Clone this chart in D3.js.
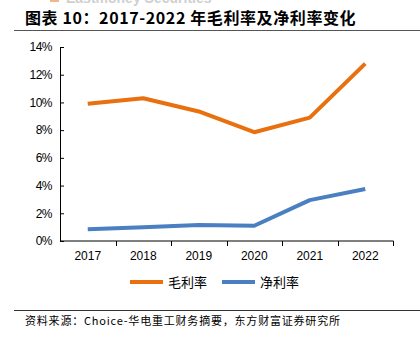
<!DOCTYPE html>
<html>
<head>
<meta charset="utf-8">
<script src="https://cdn.jsdelivr.net/npm/d3@7"></script>
<style>
  body { margin: 0; background: #fff; }
  svg { display: block; font-family: "Liberation Sans", Arial, sans-serif; }
  .axis path, .axis line { stroke: #000; }
  .axis text { fill: #000; font-size: 12px; }
</style>
</head>
<body>
<svg id="chart" width="420" height="343"></svg>
<script>
var years = ["2017", "2018", "2019", "2020", "2021", "2022"],
    grossMargin = [9.9, 10.3, 9.35, 7.85, 8.9, 12.8],
    netMargin = [0.85, 1.0, 1.15, 1.1, 2.95, 3.75],
    yTicks = [0, 2, 4, 6, 8, 10, 12, 14],
    seriesNames = ["毛利率", "净利率"],
    colors = ["#e8700f", "#4a7fc1"];

var svg = d3.select("#chart"),
    margin = {top: 47, right: 27, bottom: 102, left: 60},
    width = +svg.attr("width") - margin.left - margin.right,
    height = +svg.attr("height") - margin.top - margin.bottom,
    g = svg.append("g").attr("transform", "translate(" + margin.left + "," + margin.top + ")");

// watermark peeking at the top
svg.append("text")
    .attr("x", 66).attr("y", 3)
    .attr("font-size", 14).attr("font-weight", "bold")
    .attr("fill", "#cfcfcf")
    .text("Eastmoney Securities");
svg.append("rect").attr("x", 50).attr("y", -6).attr("width", 9).attr("height", 8).attr("fill", "#f3b58a");

// title
svg.append("text")
    .attr("x", 25).attr("y", 24)
    .attr("font-family", "'Noto Sans CJK SC', sans-serif")
    .attr("font-size", 16).attr("font-weight", "bold")
    .attr("letter-spacing", "0.6px")
    .attr("fill", "#000")
    .text("图表 10：2017-2022 年毛利率及净利率变化");

svg.append("line")
    .attr("x1", 14).attr("x2", 420).attr("y1", 30.5).attr("y2", 30.5)
    .attr("stroke", "#555").attr("stroke-width", 1);

var x = d3.scaleBand()
    .domain(years)
    .range([0, width]);

var y = d3.scaleLinear()
    .domain([0, 14])
    .range([height, 0]);

// x axis with ticks at category boundaries
var xAxis = g.append("g")
    .attr("class", "axis axis--x")
    .attr("transform", "translate(0," + height + ")")
    .call(d3.axisBottom(x).tickSize(0).tickPadding(10));
xAxis.selectAll(".tick text").attr("font-size", 12.5);
xAxis.select(".domain").attr("d", "M0.5,0H" + (width + 0.5) + "V5");
xAxis.selectAll(".bound")
    .data(years.slice(1))
    .enter().append("line")
    .attr("class", "bound")
    .attr("x1", function(d) { return Math.round(x(d)) + 0.5; })
    .attr("x2", function(d) { return Math.round(x(d)) + 0.5; })
    .attr("y1", 0).attr("y2", 5)
    .attr("stroke", "#000");

var yAxis = g.append("g")
    .attr("class", "axis axis--y")
    .call(d3.axisLeft(y).tickValues(yTicks).tickSize(-4).tickPadding(8)
      .tickFormat(function(d) { return d + "%"; }));
yAxis.select(".domain").attr("d", "M0.5," + height + "V0.5");
yAxis.selectAll(".tick text").attr("font-size", 12).attr("letter-spacing", "-0.5px");

var line = d3.line()
    .x(function(d, i) { return x(years[i]) + x.bandwidth() / 2; })
    .y(function(d) { return y(d); });

[grossMargin, netMargin].forEach(function(s, k) {
  g.append("path")
      .datum(s)
      .attr("fill", "none")
      .attr("stroke", colors[k])
      .attr("stroke-width", 4)
      .attr("stroke-linejoin", "round")
      .attr("d", line);
});

// legend
var legend = svg.append("g").attr("transform", "translate(130,282)");
seriesNames.forEach(function(name, k) {
  var lg = legend.append("g").attr("transform", "translate(" + (k * 92) + ",0)");
  lg.append("line")
      .attr("x1", 0).attr("x2", 33)
      .attr("stroke", colors[k]).attr("stroke-width", 4);
  lg.append("text")
      .attr("x", 38).attr("y", 5)
      .attr("font-family", "'Noto Sans CJK SC', sans-serif")
      .attr("font-size", 13)
      .text(name);
});

// source
svg.append("line")
    .attr("x1", 14).attr("x2", 420).attr("y1", 310.5).attr("y2", 310.5)
    .attr("stroke", "#333").attr("stroke-width", 1);
svg.append("text")
    .attr("x", 25).attr("y", 325)
    .attr("font-family", "'Noto Sans CJK SC', sans-serif")
    .attr("font-size", 11)
    .attr("letter-spacing", "0.8px")
    .text("资料来源：Choice-华电重工财务摘要，东方财富证券研究所");
</script>
</body>
</html>
